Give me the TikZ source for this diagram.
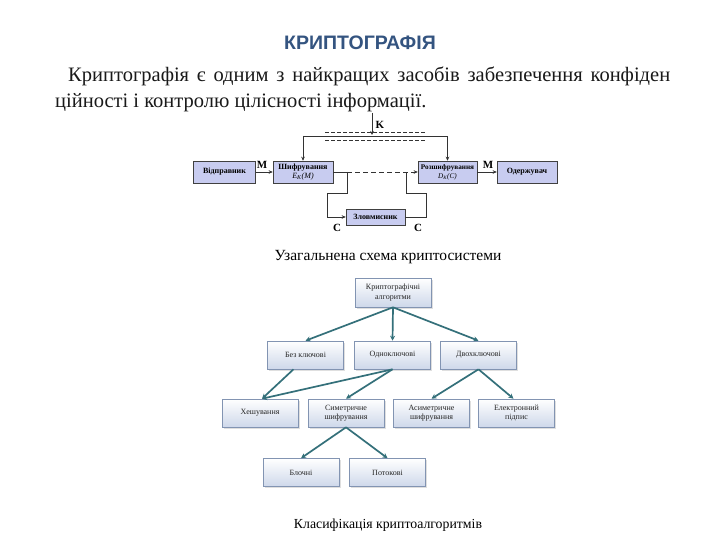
\documentclass[tikz,border=0pt]{standalone}
\usepackage{fontspec}
\setmainfont{Liberation Serif}
\newfontfamily\titlefont{Liberation Sans}
\usetikzlibrary{arrows.meta,shadows,calc}
\definecolor{titleblue}{RGB}{52,84,128}
\definecolor{lav}{RGB}{200,204,240}
\definecolor{boxborder}{RGB}{130,148,178}
\definecolor{boxbottom}{RGB}{206,216,234}
\definecolor{tealline}{RGB}{52,112,122}
\tikzset{
  topbox/.style={draw=black!75, fill=lav, line width=0.5pt, minimum height=22pt, inner sep=0pt, align=center, font=\bfseries\fontsize{8}{9}\selectfont},
  treebox/.style={draw=boxborder, top color=white, bottom color=boxbottom, line width=0.6pt, minimum width=76pt, minimum height=28pt, inner sep=1pt, align=center, font=\fontsize{8}{9.5}\selectfont, text=black!85, drop shadow={opacity=0.25, shadow xshift=1.5pt, shadow yshift=-1.5pt}},
  thin/.style={draw=black!80, line width=0.5pt},
  tarr/.style={thin, -{Stealth[length=4pt,width=3.5pt]}},
  tree/.style={draw=tealline, line width=1.7pt, -{Stealth[length=5pt,width=5pt]}},
  lbl/.style={font=\bfseries\fontsize{11}{12}\selectfont, inner sep=0pt},
}
\begin{document}
\begin{tikzpicture}[x=1pt,y=-1pt]
\useasboundingbox (0,0) rectangle (720,540);
\fill[white] (0,0) rectangle (720,540);
% title and paragraph
\node[anchor=base, text=titleblue, font=\titlefont\bfseries\fontsize{19.5}{21}\selectfont, inner sep=0pt] (title) at (360,50) {КРИПТОГРАФІЯ};
\node[anchor=base west, inner sep=0pt, font=\fontsize{20.5}{23}\selectfont, text=black!90] (p1) at (68,82) {\makebox[602pt][s]{Криптографія є одним з найкращих засобів забезпечення конфіден}};
\node[anchor=base west, inner sep=0pt, font=\fontsize{20.5}{23}\selectfont, text=black!90] (p2) at (55,108) {ційності і контролю цілісності інформації.};
% top scheme
\node[topbox, minimum width=62pt] (vid) at (224.5,172) {Відправник};
\node[topbox, minimum width=60pt] (shif) at (303,172) {Шифрування\\{\mdseries\itshape E\textsubscript{K}(M)}};
\node[topbox, minimum width=59pt, font=\bfseries\fontsize{7.2}{8.8}\selectfont] (rozsh) at (447.5,172) {Розшифрування\\{\mdseries\itshape D\textsubscript{K}(C)}};
\node[topbox, minimum width=60pt] (oder) at (527,172) {Одержувач};
\node[topbox, minimum width=59pt, minimum height=16pt] (zlov) at (375.5,217) {Зловмисник};
\draw[tarr] (vid) -- (shif);
\draw[tarr] (rozsh) -- (oder);
\node[lbl] (m1) at (262,165) {M};
\node[lbl] (m2) at (488,165) {M};
% key distribution
\coordinate (kbus) at (303,136);
\coordinate (ktop) at (372,113);
\coordinate (kin) at (372,135);
\draw[tarr] (kbus) -- (shif.north);
\draw[tarr] (kbus) -| (rozsh.north);
\draw[tarr] (ktop) -- (kin);
\node[lbl] (k) at (380,125) {K};
\draw[thin, dash pattern=on 4pt off 2pt] (325,132) -- (425,132);
\draw[thin, dash pattern=on 4pt off 2pt] (325,140) -- (425,140);
% channel
\coordinate (ch1) at (347,172);
\coordinate (ch2) at (406,172);
\draw[thin] (shif.east) -- (ch1);
\draw[tarr, dash pattern=on 5pt off 3pt] (ch1) -- (rozsh.west);
\draw[tarr] (ch1) -- (347,193) -- (327,193) |- (zlov.west);
\draw[thin] (zlov.east) -| (426,193) -| (ch2);
\node[lbl] (c1) at (337,228) {C};
\node[lbl] (c2) at (418,228) {C};
\node[anchor=base, inner sep=0pt, font=\fontsize{15.5}{17}\selectfont] (cap1) at (388,260) {Узагальнена схема криптосистеми};
% tree
\node[treebox, minimum height=29pt] (root) at (393,292.5) {Криптографічні\\алгоритми};
\node[treebox] (bez) at (305.5,355) {Без ключові};
\node[treebox] (odno) at (392.5,355) {Одноключові};
\node[treebox] (dvo) at (478.5,355) {Двохключові};
\node[treebox] (hesh) at (260,413) {Хешування};
\node[treebox] (sym) at (346,413) {Симетричне\\шифрування};
\node[treebox] (asym) at (431.5,413) {Асиметричне\\шифрування};
\node[treebox] (ep) at (516.5,413) {Електронний\\підпис};
\node[treebox] (blok) at (301,472.5) {Блочні};
\node[treebox] (pot) at (387.5,472.5) {Потокові};
\draw[tree] (root.south) -- (bez.north);
\draw[tree] (root.south) -- (odno.north);
\draw[tree] (root.south) -- (dvo.north);
\draw[tree] ([xshift=-12pt]bez.south) -- ([xshift=2pt]hesh.north);
\draw[tree] (odno.south) -- ([xshift=2pt]hesh.north);
\draw[tree] (odno.south) -- (sym.north);
\draw[tree] (dvo.south) -- (asym.north);
\draw[tree] (dvo.south) -- ([xshift=-3pt]ep.north);
\draw[tree] (sym.south) -- (blok.north);
\draw[tree] (sym.south) -- (pot.north);
\node[anchor=base, inner sep=0pt, font=\fontsize{13.8}{15}\selectfont] (cap2) at (388,528) {Класифікація криптоалгоритмів};
\end{tikzpicture}
\end{document}
